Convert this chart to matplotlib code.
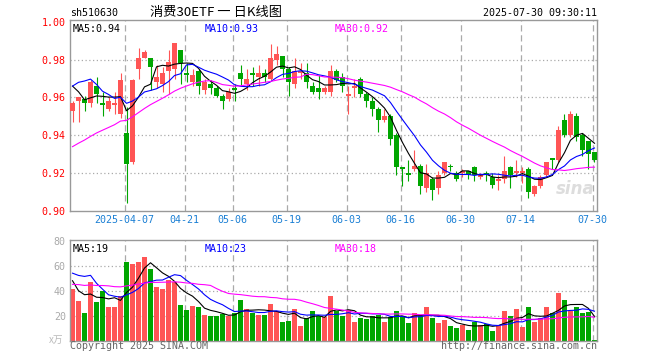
import matplotlib
matplotlib.use("Agg")
import matplotlib.pyplot as plt
import numpy as np
import pandas as pd

code = "sh510630"
title = "消费30ETF 一 日K线图"
stamp = "2025-07-30 09:30:11"

# closes / volumes before the first visible day (only feed the moving averages)
pre_close = [0.905, 0.907, 0.910, 0.908, 0.912, 0.915, 0.913, 0.911, 0.914,
             0.912, 0.915, 0.918, 0.916, 0.920, 0.922, 0.925, 0.930, 0.933, 0.936, 0.938,
             0.940, 0.950, 0.958, 0.990, 0.992, 0.975, 0.978, 0.963, 0.957]
pre_vol = [38, 42, 36, 44, 40, 35, 46, 41, 39, 43, 37, 45, 40, 42, 38, 44, 41, 39, 43, 37,
           50, 30, 38, 95, 87, 72, 38, 44, 44]

opens = [0.953, 0.958, 0.959, 0.957, 0.966, 0.957, 0.954, 0.956, 0.951, 0.941,
         0.926, 0.975, 0.981, 0.981, 0.968, 0.967, 0.974, 0.975, 0.985, 0.973,
         0.968, 0.974, 0.964, 0.967, 0.965, 0.961, 0.959, 0.965, 0.973, 0.967,
         0.973, 0.971, 0.973, 0.970, 0.980, 0.982, 0.975, 0.967, 0.973, 0.973,
         0.966, 0.965, 0.963, 0.963, 0.974, 0.971, 0.961, 0.965, 0.970, 0.962,
         0.958, 0.954, 0.948, 0.950, 0.940, 0.923, 0.920, 0.922, 0.924, 0.912,
         0.917, 0.912, 0.920, 0.924, 0.920, 0.920, 0.921, 0.923, 0.918, 0.920,
         0.918, 0.916, 0.917, 0.923, 0.920, 0.920, 0.922, 0.909, 0.913, 0.919,
         0.928, 0.927, 0.948, 0.940, 0.950, 0.940, 0.937, 0.931]
highs = [0.958, 0.960, 0.961, 0.969, 0.971, 0.963, 0.960, 0.963, 0.973, 0.955,
         0.970, 0.986, 0.985, 0.981, 0.977, 0.976, 0.985, 0.989, 0.985, 0.978,
         0.975, 0.975, 0.970, 0.969, 0.966, 0.962, 0.965, 0.967, 0.977, 0.975,
         0.976, 0.977, 0.975, 0.988, 0.987, 0.982, 0.976, 0.981, 0.978, 0.978,
         0.968, 0.972, 0.966, 0.977, 0.975, 0.973, 0.966, 0.970, 0.971, 0.963,
         0.960, 0.955, 0.954, 0.951, 0.941, 0.923, 0.927, 0.932, 0.925, 0.925,
         0.918, 0.921, 0.926, 0.925, 0.921, 0.922, 0.921, 0.924, 0.920, 0.921,
         0.920, 0.919, 0.929, 0.924, 0.927, 0.923, 0.923, 0.914, 0.919, 0.926,
         0.928, 0.945, 0.951, 0.953, 0.952, 0.941, 0.937, 0.931]
lows = [0.947, 0.947, 0.953, 0.955, 0.957, 0.950, 0.953, 0.951, 0.949, 0.904,
        0.925, 0.970, 0.981, 0.964, 0.965, 0.963, 0.962, 0.970, 0.967, 0.968,
        0.966, 0.962, 0.962, 0.962, 0.960, 0.954, 0.958, 0.958, 0.966, 0.964,
        0.966, 0.966, 0.968, 0.969, 0.977, 0.971, 0.961, 0.965, 0.970, 0.965,
        0.962, 0.959, 0.962, 0.961, 0.968, 0.963, 0.951, 0.960, 0.960, 0.955,
        0.950, 0.942, 0.947, 0.935, 0.919, 0.913, 0.916, 0.921, 0.909, 0.910,
        0.906, 0.909, 0.919, 0.921, 0.916, 0.918, 0.917, 0.916, 0.917, 0.916,
        0.912, 0.911, 0.915, 0.912, 0.918, 0.915, 0.907, 0.908, 0.912, 0.918,
        0.922, 0.926, 0.939, 0.939, 0.937, 0.929, 0.922, 0.926]
closes = [0.957, 0.960, 0.957, 0.968, 0.962, 0.956, 0.958, 0.957, 0.969, 0.925,
          0.969, 0.981, 0.984, 0.976, 0.971, 0.973, 0.979, 0.989, 0.978, 0.972,
          0.972, 0.966, 0.968, 0.965, 0.961, 0.958, 0.963, 0.964, 0.970, 0.970,
          0.972, 0.973, 0.971, 0.981, 0.983, 0.975, 0.968, 0.974, 0.974, 0.968,
          0.963, 0.963, 0.965, 0.974, 0.969, 0.966, 0.962, 0.966, 0.962, 0.958,
          0.954, 0.948, 0.950, 0.938, 0.923, 0.922, 0.919, 0.924, 0.913, 0.920,
          0.911, 0.919, 0.926, 0.923, 0.917, 0.921, 0.919, 0.919, 0.919, 0.919,
          0.914, 0.917, 0.921, 0.919, 0.921, 0.921, 0.910, 0.913, 0.918, 0.926,
          0.927, 0.943, 0.940, 0.951, 0.939, 0.932, 0.930, 0.927]
# volume in 10k lots
volumes = [41.3, 32.0, 22.1, 46.7, 31.2, 40.0, 26.7, 26.7, 36.0, 62.7,
           61.6, 62.7, 67.2, 57.1, 42.7, 41.1, 48.8, 47.2, 28.8, 24.8,
           28.0, 27.2, 20.8, 20.0, 19.5, 21.3, 19.5, 21.9, 32.8, 25.6,
           21.9, 20.8, 20.8, 29.6, 23.5, 14.7, 16.0, 25.6, 12.0, 18.4,
           23.7, 20.0, 18.7, 36.0, 24.0, 20.0, 24.5, 14.7, 18.4, 17.3,
           19.5, 20.8, 14.7, 18.7, 24.0, 20.0, 13.9, 21.9, 20.0, 26.7,
           18.4, 13.9, 16.8, 12.0, 10.4, 12.5, 8.5, 14.7, 12.5, 13.1,
           8.0, 11.5, 24.0, 20.0, 25.6, 11.2, 26.7, 15.2, 18.4, 26.7,
           21.9, 38.4, 32.8, 24.0, 27.2, 21.9, 22.7, 0.8]

tick_idx = [9, 19, 27, 36, 46, 55, 65, 75, 87]
tick_labels = ["2025-04-07", "04-21", "05-06", "05-19", "06-03",
               "06-16", "06-30", "07-14", "07-30"]

RED = "#ff5555"
GREEN = "#00a600"
GRID = "#aaaaaa"
MONO = "DejaVu Sans Mono"
CJK = ["Noto Sans CJK SC", "DejaVu Sans"]

o = np.array(opens); h = np.array(highs); l = np.array(lows); c = np.array(closes)
v = np.array(volumes)
x = np.arange(len(c))
up = c >= o
cols = np.where(up, RED, GREEN)

pc = pd.Series(pre_close + closes)
pv = pd.Series(pre_vol + volumes)
n0 = len(pre_close)
ma_p = {n: pc.rolling(n).mean().values[n0:] for n in (5, 10, 30)}
ma_v = {n: pv.rolling(n).mean().values[n0:] for n in (5, 10, 30)}
ma_col = {5: "black", 10: "#0000ff", 30: "#ff00ff"}

fig = plt.figure(figsize=(6.6, 3.6), dpi=100)
W, H = 660.0, 360.0


def px(xp, yp):
    return xp / W, 1 - yp / H


ax = fig.add_axes([70 / W, 1 - 211 / H, 527.3 / W, 191.5 / H])
axv = fig.add_axes([70 / W, 1 - 340.5 / H, 527.3 / W, 100.5 / H])

xlim = (-0.42, 87.47)
gx = np.array(tick_idx) - 0.33

for a in (ax, axv):
    a.set_xlim(*xlim)
    for s in a.spines.values():
        s.set_color("#999999")
        s.set_linewidth(1.0)
    for g in gx:
        a.axvline(g, color=GRID, lw=0.9, ls=(0, (5, 3)), zorder=0)
    a.tick_params(length=0)

# price panel
ax.set_ylim(0.9004, 1.0012)
for yv in (0.92, 0.94, 0.96, 0.98):
    ax.axhline(yv, color=GRID, lw=0.9, ls=(0, (1, 2)), zorder=0)
ax.vlines(x, l, h, colors=cols, lw=0.8, zorder=2)
body = np.maximum(np.abs(c - o), 0.0005)
ax.bar(x, body, bottom=np.minimum(o, c), width=0.82, color=cols, lw=0, zorder=3)
for n in (5, 10, 30):
    ax.plot(x, ma_p[n], color=ma_col[n], lw=0.8, zorder=4)

ax.set_yticks([0.90, 0.92, 0.94, 0.96, 0.98, 1.00])
ax.set_yticklabels(["0.90", "0.92", "0.94", "0.96", "0.98", "1.00"],
                   color="#ff0000", family=MONO, fontsize=7.2)
ax.set_xticks(gx)
ax.set_xticklabels(tick_labels, color="#1a7fd4", family=MONO, fontsize=7.2)
ax.tick_params(axis="y", pad=3)
ax.tick_params(axis="x", pad=3)

ax.text(3 / 527.3, 0.975, "MA5:%.2f" % ma_p[5][-1], transform=ax.transAxes,
        family=MONO, fontsize=7.2, color="black", va="top")
ax.text(135 / 527.3, 0.975, "MA10:%.2f" % ma_p[10][-1], transform=ax.transAxes,
        family=MONO, fontsize=7.2, color="#0000ff", va="top")
ax.text(265 / 527.3, 0.975, "MA30:%.2f" % ma_p[30][-1], transform=ax.transAxes,
        family=MONO, fontsize=7.2, color="#ff00ff", va="top")
ax.text(0.995, 0.07, "sina", transform=ax.transAxes, ha="right", va="bottom",
        fontsize=12, style="italic", weight="bold", color="#dddddd", zorder=1)

# volume panel
axv.set_ylim(0, 80.5)
for yv in (20, 40, 60):
    axv.axhline(yv, color=GRID, lw=0.9, ls=(0, (1, 2)), zorder=0)
axv.bar(x, v, width=0.82, color=cols, lw=0, zorder=2)
for n in (5, 10, 30):
    axv.plot(x, ma_v[n], color=ma_col[n], lw=0.8, zorder=4)
axv.set_yticks([20, 40, 60, 80])
axv.set_yticklabels(["20", "40", "60", "80"], color="#aaaaaa", family=MONO, fontsize=7.2)
axv.set_xticks([])
axv.tick_params(axis="y", pad=3)

# volume MAs are shown truncated to whole units
axv.text(3 / 527.3, 0.96, "MA5:%d" % int(ma_v[5][-1]), transform=axv.transAxes,
         family=MONO, fontsize=7.2, color="black", va="top")
axv.text(135 / 527.3, 0.96, "MA10:%d" % int(ma_v[10][-1]), transform=axv.transAxes,
         family=MONO, fontsize=7.2, color="#0000ff", va="top")
axv.text(265 / 527.3, 0.96, "MA30:%d" % int(ma_v[30][-1]), transform=axv.transAxes,
         family=MONO, fontsize=7.2, color="#ff00ff", va="top")

# header / footer text
fig.text(*px(70, 13), code, family=MONO, fontsize=7.2, va="center", ha="left")
fig.text(*px(216, 12.5), title, family=CJK, fontsize=9.5, va="center", ha="center")
fig.text(*px(597, 13), stamp, family=MONO, fontsize=7.2, va="center", ha="right")
fig.text(*px(63, 340), "x万", family=CJK, fontsize=7, va="center", ha="right",
         color="#bbbbbb", style="italic")
fig.text(*px(70, 346), "Copyright 2025 SINA.COM", family=MONO, fontsize=7.2,
         va="center", ha="left", color="#666666")
fig.text(*px(597, 346), "http://finance.sina.com.cn", family=MONO, fontsize=7.2,
         va="center", ha="right", color="#666666")

fig.savefig("out.png", dpi=100)
